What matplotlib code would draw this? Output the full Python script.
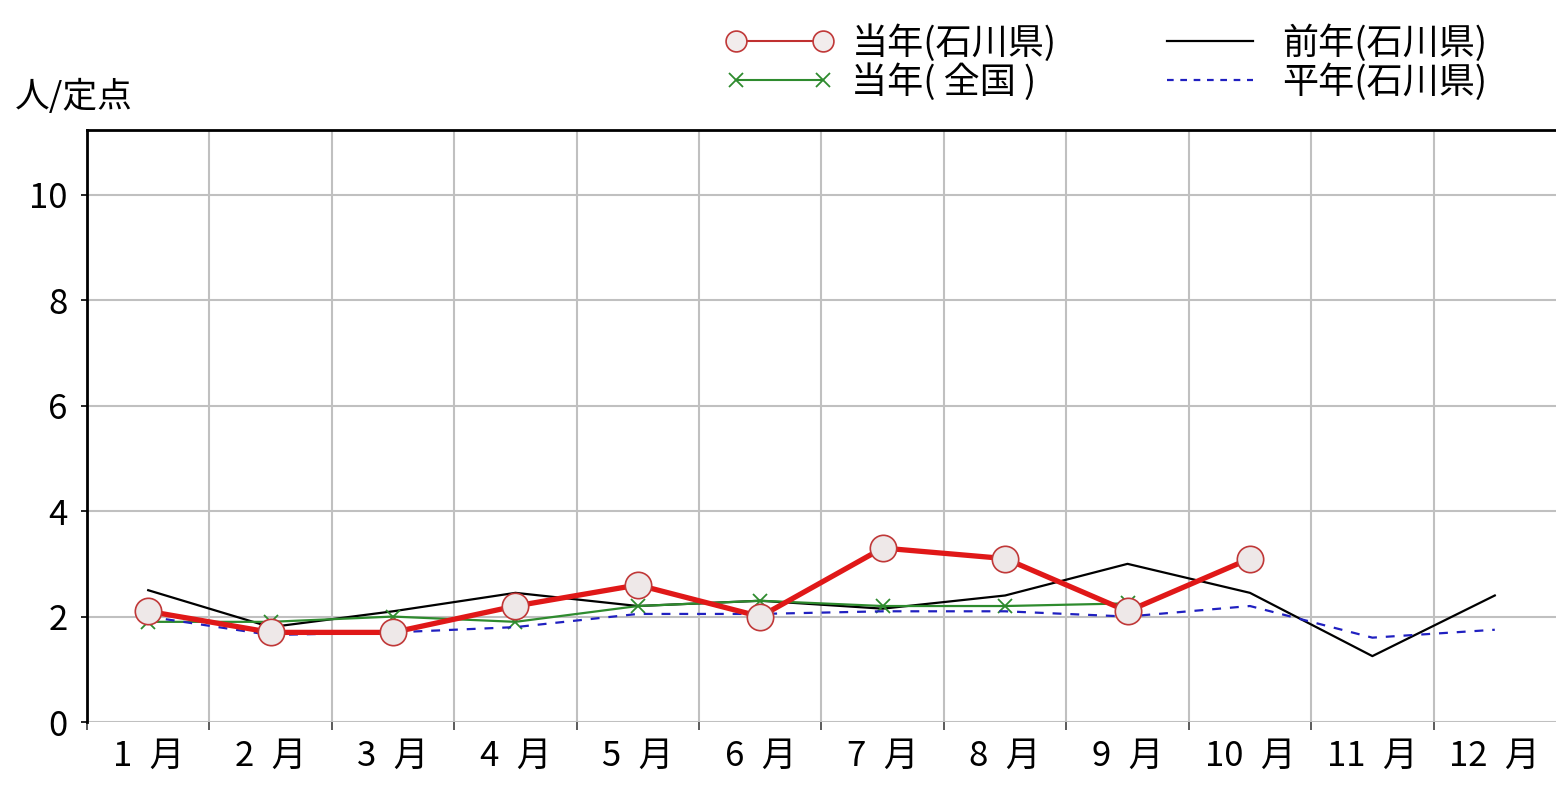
import matplotlib
matplotlib.use("Agg")
import matplotlib.pyplot as plt
from matplotlib.lines import Line2D
import numpy as np

plt.rcParams['font.family'] = ['Noto Sans CJK JP', 'DejaVu Sans']

months = np.arange(1, 13)
month_labels = [f"{m}\u2002月" for m in months]

# 当年(石川県) - up to October
cur_pref = [2.1, 1.7, 1.7, 2.2, 2.6, 2.0, 3.3, 3.1, 2.1, 3.1]
# 当年(全国) - up to September
cur_nat = [1.9, 1.9, 2.0, 1.9, 2.2, 2.3, 2.2, 2.2, 2.25]
# 前年(石川県)
prev_pref = [2.5, 1.8, 2.1, 2.45, 2.2, 2.3, 2.15, 2.4, 3.0, 2.45, 1.25, 2.4]
# 平年(石川県)
avg_pref = [2.0, 1.65, 1.7, 1.8, 2.05, 2.05, 2.1, 2.1, 2.0, 2.2, 1.6, 1.75]

fig = plt.figure(figsize=(15.56, 7.94), dpi=100)
ax = fig.add_axes([87 / 1556, 72 / 794, 1 - 87 / 1556, 592 / 794])

ax.plot(months[:len(prev_pref)], prev_pref, color='black', lw=1.6, zorder=3)
ax.plot(months[:len(cur_nat)], cur_nat, color='#2e8b2e', lw=1.6, marker='x',
        ms=10, mew=1.3, zorder=3)
ax.plot(months[:len(avg_pref)], avg_pref, color='#2020c0', lw=1.6,
        ls=(0, (4, 4)), zorder=3)
ax.plot(months[:len(cur_pref)], cur_pref, color='#e01818', lw=3.8, marker='o',
        ms=19, mfc='#eee8e8', mec='#c03838', mew=1.2, zorder=4)

ax.set_xlim(0.5, 12.5)
ax.set_ylim(0, 11.23)
ax.set_xticks(months)
ax.set_xticklabels(month_labels)
ax.set_xticks(np.arange(0.5, 12.5, 1), minor=True)
ax.set_yticks(np.arange(0, 11, 2))
ax.tick_params(axis='x', which='major', length=0, pad=12, labelsize=25)
ax.tick_params(axis='x', which='minor', length=6, width=1.2, color='#404040')
ax.tick_params(axis='y', length=4, width=1.2, pad=10, labelsize=25)

ax.grid(True, axis='y', color='#c0c0c0', lw=1.5)
ax.grid(True, axis='x', which='minor', color='#c0c0c0', lw=1.5)
ax.set_axisbelow(True)

for s in ['bottom', 'right']:
    ax.spines[s].set_visible(False)
ax.spines['left'].set_linewidth(2)
ax.spines['top'].set_linewidth(2)

fig.text(15 / 1556, 1 - 97 / 794, '人/定点', va='center', ha='left', fontsize=25)

handles = [
    Line2D([], [], color='#c03030', lw=1.5, marker='o', ms=15,
           mfc='#f2ecec', mec='#c03838', mew=1.2),
    Line2D([], [], color='#2e8b2e', lw=1.5, marker='x', ms=10, mew=1.3),
    Line2D([], [], color='black', lw=1.6),
    Line2D([], [], color='#2020c0', lw=1.6, ls=(0, (3, 3))),
]
labels = ['当年(石川県)', '当年( 全国 )', '前年(石川県)', '平年(石川県)']
fig.legend(handles, labels, ncol=2,
           loc='upper left', bbox_to_anchor=(725 / 1556, 1 - 24 / 794),
           frameon=False, fontsize=26, numpoints=2, handlelength=3.0,
           columnspacing=2.75, labelspacing=0.05, borderpad=0, borderaxespad=0,
           handletextpad=0.5)

fig.savefig('out.png', dpi=100)
